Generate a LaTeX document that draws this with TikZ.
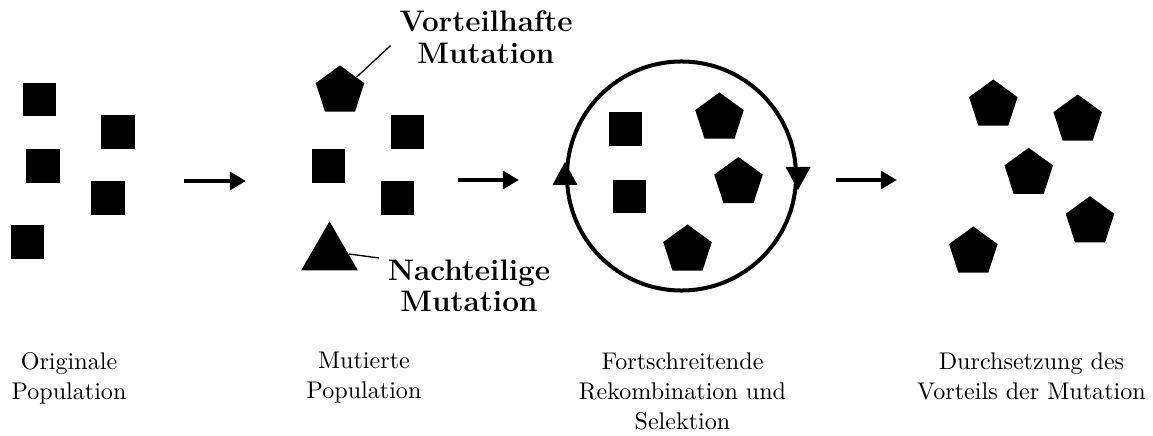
\documentclass[tikz,border=0pt]{standalone}
\usetikzlibrary{shapes.geometric,arrows.meta,calc}
\begin{document}
\begin{tikzpicture}[x=0.4545pt,y=-0.4545pt,
  sq/.style={rectangle,fill=black,inner sep=0pt,minimum size=15pt},
  pent/.style={regular polygon,regular polygon sides=5,fill=black,inner sep=0pt,minimum size=23.2pt},
  trig/.style={regular polygon,regular polygon sides=3,fill=black,inner sep=0pt,minimum size=29.7pt},
  flow/.style={line width=1.82pt,-{Triangle[length=7.3pt,width=8pt]}},
  caption/.style={align=center,anchor=north,inner sep=0pt,font=\fontsize{10.95}{13.6}\selectfont},
  tag/.style={align=center,anchor=north,inner sep=0pt,font=\fontsize{13.5}{14.5}\selectfont\bfseries},
  lead/.style={line width=0.6pt}]
\useasboundingbox (0,0) rectangle (1153,436);

% original population
\node[sq] (o1) at (39.5,99.5) {};
\node[sq] (o2) at (118,132) {};
\node[sq] (o3) at (43,166) {};
\node[sq] (o4) at (108,198) {};
\node[sq] (o5) at (27.5,242) {};

% mutated population
\node[pent] (pm) at (340,91) {};
\node[sq] (m1) at (407.5,132) {};
\node[sq] (m2) at (328.5,166) {};
\node[sq] (m3) at (397.5,198) {};
\node[trig] (tri) at (329.5,254) {};

\node[tag] (vl) at (486,10) {Vorteilhafte\\Mutation};
\node[tag] (nl) at (469,259) {Nachteilige\\Mutation};
\draw[lead] (pm.40) -- ($(vl.west)+(-8.5,8.7)$);
\draw[lead] (tri.0) -- ($(nl.north west)+(-8.5,-1)$);

% recombination and selection cycle
\node[circle,draw,line width=1.82pt,minimum size=104.1pt,inner sep=0pt] (circ) at (681.5,176) {};
\fill ($(circ.west)+(0,-14)$) -- ($(circ.west)+(12.5,9)$) -- ($(circ.west)+(-12.5,9)$) -- cycle;
\fill ($(circ.east)+(0,14)$) -- ($(circ.east)+(12.5,-9)$) -- ($(circ.east)+(-12.5,-9)$) -- cycle;
\node[sq] (r1) at (625.3,129) {};
\node[sq] (r2) at (629.3,196.3) {};
\node[pent] (r3) at (719.5,118) {};
\node[pent] (r4) at (738.5,182.5) {};
\node[pent] (r5) at (687.5,250) {};

% final population
\node[pent] (f1) at (993.3,105) {};
\node[pent] (f2) at (1077.7,120) {};
\node[pent] (f3) at (1028.7,173.3) {};
\node[pent] (f4) at (1090,221.7) {};
\node[pent] (f5) at (973.3,252) {};

% stage arrows
\coordinate (a1s) at (184,181);
\coordinate (a1e) at (246,181);
\coordinate (a2s) at (458,180);
\coordinate (a2e) at (519,180);
\coordinate (a3s) at (836,180);
\coordinate (a3e) at (897,180);
\draw[flow] (a1s) -- (a1e);
\draw[flow] (a2s) -- (a2e);
\draw[flow] (a3s) -- (a3e);

% captions
\node[caption] (c1) at (69,352) {Originale\\Population};
\node[caption] (c2) at (364,352) {Mutierte\\Population};
\node[caption] (c3) at (682.5,352) {Fortschreitende\\Rekombination und\\Selektion};
\node[caption] (c4) at (1031.5,352) {Durchsetzung des\\Vorteils der Mutation};
\end{tikzpicture}
\end{document}
